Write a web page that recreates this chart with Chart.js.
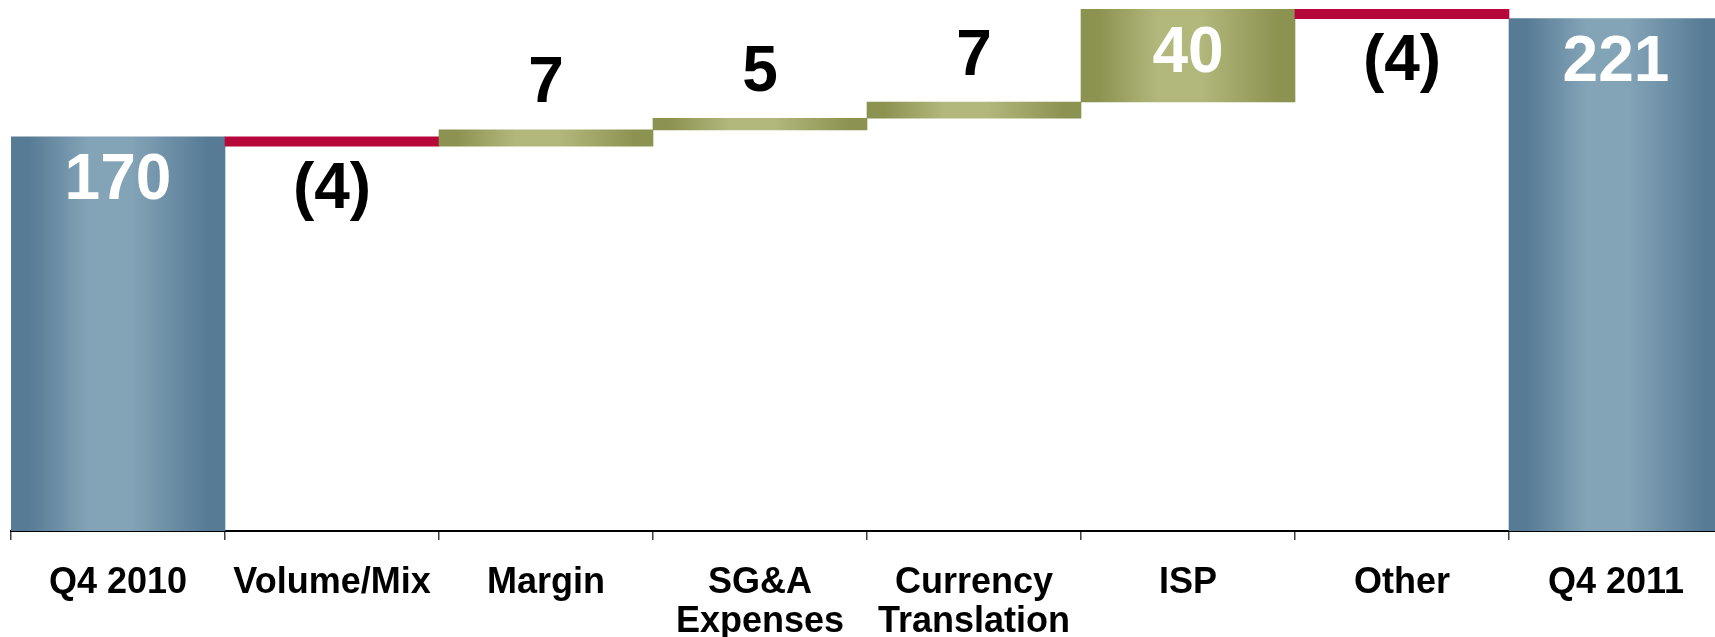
<!DOCTYPE html>
<html>
<head>
<meta charset="utf-8">
<title>EBIT bridge Q4 2010 - Q4 2011</title>
<script src="https://cdn.jsdelivr.net/npm/chart.js@4.4.0/dist/chart.umd.min.js"></script>
<style>
    html, body { margin: 0; padding: 0; background: #fff; overflow: hidden; }
    #wrap { width: 1725px; height: 637px; }
</style>
</head>
<body>
<div id="wrap"><canvas id="bridgeChart" width="1725" height="637"></canvas></div>
<script>
// Categorias (rótulos do eixo X) e variações de cada etapa da ponte
const categories = ['Q4 2010', 'Volume/Mix', 'Margin', ['SG&A', 'Expenses'], ['Currency', 'Translation'], 'ISP', 'Other', 'Q4 2011'];
const changes = [170, -4, 7, 5, 7, 40, -4, 221];
const isTotal = [true, false, false, false, false, false, false, true];
const yMax = 229;

const FONT = '"Liberation Sans", Arial, Helvetica, sans-serif';

// Cores: totais em azul, aumentos em oliva (degradê), reduções em vermelho sólido
const totalColors = ['#577b95', '#83a3b7'];
const upColors = ['#8c9250', '#b2b87c'];
const downColor = '#b5073a';

// Monta as barras flutuantes [início, fim] a partir das variações acumuladas
function buildRanges() {
    let running = 0;
    return changes.map((v, i) => {
        if (isTotal[i]) {
            running = v;
            return [0, v];
        }
        const start = running;
        running += v;
        return [start, running];
    });
}

const ranges = buildRanges();

// Degradê horizontal: escuro nas bordas, claro no meio da barra
function barFill(ctx) {
    const i = ctx.dataIndex;
    if (!isTotal[i] && changes[i] < 0) return downColor;
    const [edge, mid] = isTotal[i] ? totalColors : upColors;
    const chart = ctx.chart;
    const xScale = chart.scales.x;
    if (!xScale || !chart.chartArea) return edge;
    const center = xScale.getPixelForValue(i);
    const half = xScale.width / categories.length / 2;
    if (!isFinite(center) || !isFinite(half) || half <= 0) return edge;
    const g = chart.ctx.createLinearGradient(center - half, 0, center + half, 0);
    g.addColorStop(0, edge);
    g.addColorStop(0.08, edge);
    g.addColorStop(0.36, mid);
    g.addColorStop(0.56, mid);
    g.addColorStop(0.92, edge);
    g.addColorStop(1, edge);
    return g;
}

// Plugin que escreve o valor de cada etapa (negativos entre parênteses)
const valueLabels = {
    id: 'valueLabels',
    afterDatasetsDraw(chart) {
        const { ctx, scales: { x, y } } = chart;
        ctx.save();
        ctx.font = `bold 64px ${FONT}`;
        ctx.textAlign = 'center';
        ctx.textBaseline = 'middle';
        ranges.forEach((r, i) => {
            const v = changes[i];
            const text = v < 0 ? `(${-v})` : String(v);
            const top = y.getPixelForValue(Math.max(r[0], r[1]));
            const bottom = y.getPixelForValue(Math.min(r[0], r[1]));
            const cx = x.getPixelForValue(i);
            let ty;
            if (bottom - top > 60) {
                // barras grandes: valor em branco dentro da barra
                ctx.fillStyle = '#ffffff';
                ty = top + 45;
            } else if (v < 0) {
                ctx.fillStyle = '#000000';
                ty = bottom + 44;
            } else {
                ctx.fillStyle = '#000000';
                ty = top - 45;
            }
            ctx.fillText(text, cx, ty);
        });
        ctx.restore();
    }
};

const ctx = document.getElementById('bridgeChart').getContext('2d');
new Chart(ctx, {
    type: 'bar',
    data: {
        labels: categories,
        datasets: [{
            data: ranges,
            backgroundColor: barFill,
            borderWidth: 0,
            borderSkipped: false,
            categoryPercentage: 1,
            barPercentage: 1
        }]
    },
    options: {
        responsive: false,
        animation: false,
        layout: { padding: { left: 11, right: 2, top: 0, bottom: 0 } },
        plugins: {
            legend: { display: false },
            tooltip: { enabled: false },
            title: { display: false }
        },
        scales: {
            x: {
                grid: {
                    offset: true,
                    drawOnChartArea: false,
                    drawTicks: true,
                    tickLength: 9,
                    color: '#404040',
                    lineWidth: 1.5
                },
                border: { display: true, color: '#000000', width: 2 },
                ticks: {
                    color: '#000000',
                    autoSkip: false,
                    maxRotation: 0,
                    padding: 24,
                    font: { family: FONT, size: 36, weight: 'bold', lineHeight: 1.08 }
                },
                afterFit(scale) {
                    scale.height = 106;
                }
            },
            y: {
                display: false,
                min: 0,
                max: yMax
            }
        }
    },
    plugins: [valueLabels]
});
</script>
</body>
</html>
